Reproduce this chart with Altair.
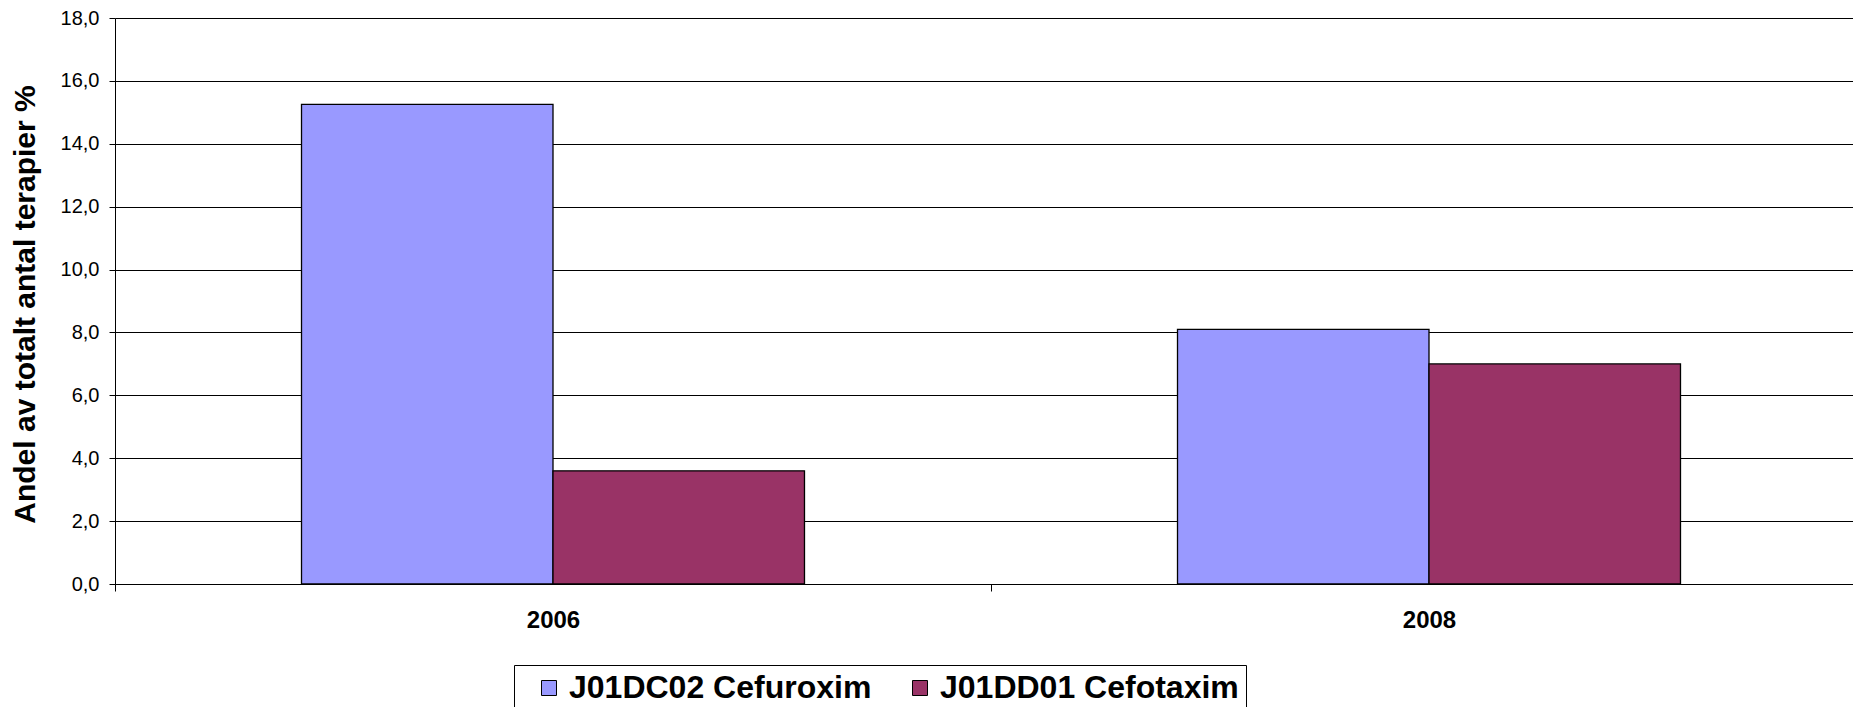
import altair as alt
import pandas as pd

years = ["2006", "2006", "2008", "2008"]
series = ["J01DC02 Cefuroxim", "J01DD01 Cefotaxim", "J01DC02 Cefuroxim", "J01DD01 Cefotaxim"]
values = [15.25, 3.6, 8.1, 7.0]
series_order = ["J01DC02 Cefuroxim", "J01DD01 Cefotaxim"]
series_colors = ["#9999FF", "#993366"]
y_ticks = [0, 2, 4, 6, 8, 10, 12, 14, 16, 18]

df = pd.DataFrame({"year": years, "series": series, "value": values})

FONT = "Liberation Sans"

bars = alt.Chart(df).mark_bar(stroke="black", strokeWidth=1.3).encode(
    x=alt.X(
        "year:N",
        title=None,
        scale=alt.Scale(paddingInner=0, paddingOuter=0, rangeMax=1752),
        axis=alt.Axis(
            labelAngle=0,
            labelFont=FONT,
            labelFontSize=24,
            labelFontWeight="bold",
            labelColor="black",
            labelPadding=17,
            tickBand="extent",
            tickSize=7,
            tickColor="black",
            tickWidth=1,
            domainColor="black",
            domainWidth=1,
            grid=False,
        ),
    ),
    xOffset=alt.XOffset(
        "series:N",
        sort=series_order,
        scale=alt.Scale(paddingInner=0, paddingOuter=0.7416),
    ),
    y=alt.Y(
        "value:Q",
        title="Andel av totalt antal terapier %",
        scale=alt.Scale(domain=[0, 18], nice=False),
        axis=alt.Axis(
            values=y_ticks,
            labelExpr="replace(format(datum.value, '.1f'), '.', ',')",
            labelFont=FONT,
            labelFontSize=20,
            labelColor="black",
            labelPadding=10,
            tickSize=6,
            tickColor="black",
            tickWidth=1,
            domainColor="black",
            domainWidth=1,
            gridColor="black",
            gridWidth=1,
            gridOpacity=1,
            titleFont=FONT,
            titleFontSize=30,
            titleFontWeight="bold",
            titleColor="black",
            titleAngle=-90,
            titleX=-81,
            titleY=286,
            titleAlign="center",
            titleBaseline="alphabetic",
        ),
    ),
    color=alt.Color(
        "series:N",
        sort=series_order,
        scale=alt.Scale(domain=series_order, range=series_colors),
        legend=alt.Legend(
            title=None,
            orient="none",
            legendX=399,
            legendY=647,
            direction="horizontal",
            padding=7,
            strokeColor="black",
            fillColor="white",
            symbolType="square",
            symbolSize=225,
            symbolStrokeColor="black",
            symbolStrokeWidth=1,
            symbolOpacity=1,
            symbolOffset=12,
            labelOffset=4,
            labelFont=FONT,
            labelFontSize=32,
            labelFontWeight="bold",
            labelColor="black",
            labelLimit=0,
            columnPadding=20,
        ),
    ),
)

chart = bars.properties(
    width=1738,
    height=566,
    autosize=alt.AutoSizeParams(type="none"),
    padding={"left": 107, "top": 10, "right": 0, "bottom": 123},
    background="white",
).configure_view(strokeWidth=0)

chart.save("out.html", embed_options={"renderer": "svg", "actions": False})
